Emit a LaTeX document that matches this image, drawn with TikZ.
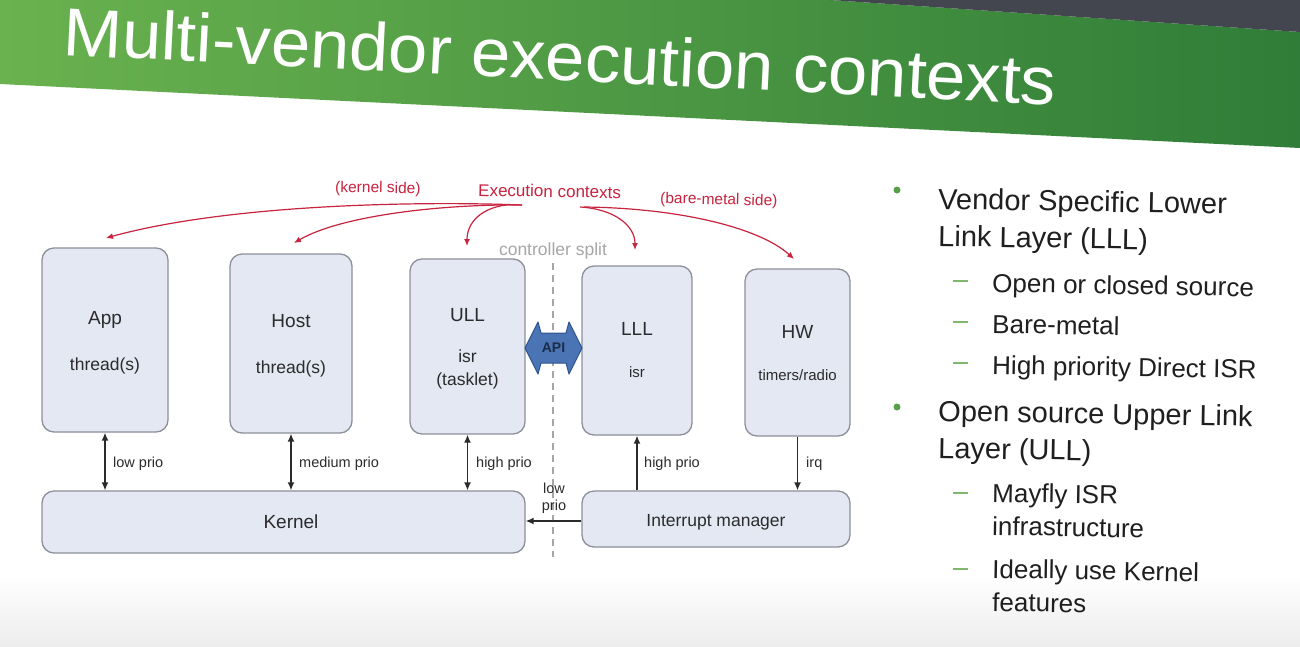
\documentclass[tikz,border=0pt]{standalone}
\usepackage{fontspec}
\setmainfont{Liberation Sans}
\usetikzlibrary{arrows.meta}

\definecolor{boxfill}{HTML}{E3E8F3}
\definecolor{boxline}{HTML}{8C9099}
\definecolor{ink}{HTML}{2B2B2B}
\definecolor{bodyink}{HTML}{1F1F1F}
\definecolor{ctxred}{HTML}{C8233F}
\definecolor{splitgray}{HTML}{A6A6A6}
\definecolor{apifill}{HTML}{4A74B4}
\definecolor{apiline}{HTML}{2E538F}
\definecolor{apiink}{HTML}{1B2C4A}
\definecolor{gleft}{HTML}{6AB24F}
\definecolor{gright}{HTML}{2F7D38}
\definecolor{topdark}{HTML}{43464E}
\definecolor{bgbot}{HTML}{EDEDED}
\definecolor{bulletgreen}{HTML}{5AA04A}
\definecolor{dashgreen}{HTML}{80B86C}

\newcommand{\fsz}[1]{\fontsize{#1pt}{#1pt}\selectfont}

\begin{document}
\begin{tikzpicture}[x=1pt,y=-1pt,
  box/.style={draw=boxline, line width=1.3pt, fill=boxfill, rounded corners=12pt, inner sep=0pt},
  boxtitle/.style={anchor=base, text=ink, inner sep=0pt, font=\fsz{19}},
  boxsub/.style={anchor=base, text=ink, inner sep=0pt, font=\fsz{17.5}},
  boxsmall/.style={anchor=base, text=ink, inner sep=0pt, font=\fsz{15}},
  prio/.style={anchor=base west, text=ink, inner sep=0pt, font=\fsz{14.5}},
  link/.style={draw=ink, line width=1.4pt},
  tip/.tip={Latex[length=8pt,width=7pt]},
  ctx/.style={draw=ctxred, line width=1.2pt, -{Latex[length=7pt,width=6pt]}},
  ctxlbl/.style={anchor=base west, text=ctxred, inner sep=0pt},
  bodytext/.style={anchor=base west, text=bodyink, inner sep=0pt, rotate=-1},
  mainitem/.style={bodytext, font=\fsz{29}},
  subitem/.style={bodytext, font=\fsz{26}},
  dashmark/.style={draw=dashgreen, line width=2pt},
]
\useasboundingbox (0,0) rectangle (1300,646);

% slide background
\fill[white] (0,0) rectangle (1300,646);
\shade[top color=white, bottom color=bgbot] (0,575) rectangle (1300,646);

% title banner
\shade[left color=gleft, right color=gright]
  (0,0) -- (830,0) -- (1300,32) -- (1300,148) -- (0,84) -- cycle;
\fill[topdark] (830,0) -- (1300,0) -- (1300,32) -- cycle;
\node[anchor=base west, rotate=-2.9, xscale=1.04, text=white, inner sep=0pt, font=\fsz{68}]
  (title) at (62,55) {Multi-vendor execution contexts};

% ---------------- diagram ----------------
% controller split
\node[anchor=base, text=splitgray, inner sep=0pt, font=\fsz{17.5}] (csplit) at (553,255) {controller split};
\coordinate (splittop) at (553,263);
\coordinate (splitbot) at (553,557);
\draw[splitgray, line width=1.5pt, dash pattern=on 7pt off 5pt] (splittop) -- (splitbot);

% context boxes
\node[box, minimum width=126pt, minimum height=184pt] (app)  at (105,340)   {};
\node[box, minimum width=122pt, minimum height=179pt] (host) at (291,343.5) {};
\node[box, minimum width=115pt, minimum height=175pt] (ull)  at (467.5,346.5) {};
\node[box, minimum width=110pt, minimum height=169pt] (lll)  at (637,350.5) {};
\node[box, minimum width=105pt, minimum height=167pt] (hw)   at (797.5,352.5) {};
\node[box, minimum width=483pt, minimum height=62pt]  (kern) at (283.5,522) {};
\node[box, minimum width=268pt, minimum height=56pt]  (irq)  at (716,519)   {};

% box texts
\node[boxtitle] (appT)  at (105,324) {App};
\node[boxsub]   (appS)  at (105,370) {thread(s)};
\node[boxtitle] (hostT) at (291,327) {Host};
\node[boxsub]   (hostS) at (291,373) {thread(s)};
\node[boxtitle] (ullT)  at (467.5,321) {ULL};
\node[boxsub]   (ullS)  at (467.5,362) {isr};
\node[boxsub]   (ullS2) at (467.5,385) {(tasklet)};
\node[boxtitle] (lllT)  at (637,335) {LLL};
\node[boxsmall] (lllS)  at (637,377) {isr};
\node[boxtitle] (hwT)   at (797.5,338) {HW};
\node[boxsmall] (hwS)   at (797.5,380) {timers/radio};
\node[boxtitle] (kernT) at (291,528) {Kernel};
\node[boxsub]   (irqT)  at (716,526) {Interrupt manager};

% API between upper and lower link layer
\filldraw[fill=apifill, draw=apiline, line width=1pt, line join=round]
  (525,348) -- (538,322) -- (541,333) -- (566,333) -- (569,322) -- (582,348)
  -- (569,374) -- (566,363) -- (541,363) -- (538,374) -- cycle;
\node[text=apiink, inner sep=0pt, font=\fsz{14}\bfseries] (api) at (553.5,348) {API};

% priority connections
\draw[link, tip-tip] (app.south)  -- (app.south |- kern.north);
\draw[link, tip-tip] (host.south) -- (host.south |- kern.north);
\draw[link, tip-tip] (ull.south)  -- (ull.south |- kern.north);
\draw[link, -tip] (lll.south |- irq.north) -- (lll.south);
\draw[link, -tip] (hw.south) -- (hw.south |- irq.north);
\draw[link, -tip] ([yshift=-2pt]irq.west) -- ([yshift=-2pt]irq.west -| kern.east);

\node[prio] (p1) at (113,467) {low prio};
\node[prio] (p2) at (299,467) {medium prio};
\node[prio] (p3) at (476,467) {high prio};
\node[prio] (p4) at (644,467) {high prio};
\node[prio] (p5) at (806,467) {irq};
\node[anchor=base, text=ink, inner sep=0pt, font=\fsz{14.5}] (p6a) at (554,493) {low};
\node[anchor=base, text=ink, inner sep=0pt, font=\fsz{14.5}] (p6b) at (554,510) {prio};

% execution contexts
\node[ctxlbl, rotate=-1, font=\fsz{17}]   (ectx) at (478,196) {Execution contexts};
\node[ctxlbl, rotate=-1, font=\fsz{15.5}] (kside) at (335,192) {(kernel side)};
\node[ctxlbl, rotate=-1.5, font=\fsz{15.5}] (bside) at (660,203) {(bare-metal side)};

\coordinate (ctxL) at (522,205);
\coordinate (ctxR) at (580,207);
\coordinate (toApp)  at (106,238);
\coordinate (toHost) at (294,243);
\coordinate (toUll)  at (467,246);
\coordinate (toLll)  at (635,250);
\coordinate (toHw)   at (794,259);

\draw[ctx] (ctxL) .. controls (420,201) and (230,204) .. (toApp);
\draw[ctx] (ctxL) .. controls (440,204) and (340,216) .. (toHost);
\draw[ctx] ([xshift=-16pt]ctxL) .. controls (482,208) and (467,222) .. (toUll);
\draw[ctx] (ctxR) .. controls (615,209) and (635,226) .. (toLll);
\draw[ctx] ([xshift=4pt]ctxR) .. controls (680,208) and (760,228) .. (toHw);

% ---------------- bullet list ----------------
\fill[bulletgreen] (897,190) circle (3.5pt);
\node[mainitem] (b1a) at (938,209) {Vendor Specific Lower};
\node[mainitem] (b1b) at (938,246) {Link Layer (LLL)};

\coordinate (d1) at (953,281);
\draw[dashmark] (d1) -- ++(15,0);
\node[subitem] (s1) at (992,292) {Open or closed source};
\coordinate (d2) at (953,322);
\draw[dashmark] (d2) -- ++(15,0);
\node[subitem] (s2) at (992,333) {Bare-metal};
\coordinate (d3) at (953,363);
\draw[dashmark] (d3) -- ++(15,0);
\node[subitem] (s3) at (992,374) {High priority Direct ISR};

\fill[bulletgreen] (897,407) circle (3.5pt);
\node[mainitem] (b2a) at (938,421) {Open source Upper Link};
\node[mainitem] (b2b) at (938,458) {Layer (ULL)};

\coordinate (d4) at (953,493);
\draw[dashmark] (d4) -- ++(15,0);
\node[subitem] (s4) at (992,502) {Mayfly ISR};
\node[subitem] (s4b) at (992,535) {infrastructure};
\coordinate (d5) at (953,569);
\draw[dashmark] (d5) -- ++(15,0);
\node[subitem] (s5) at (992,578) {Ideally use Kernel};
\node[subitem] (s5b) at (992,611) {features};
\end{tikzpicture}
\end{document}
